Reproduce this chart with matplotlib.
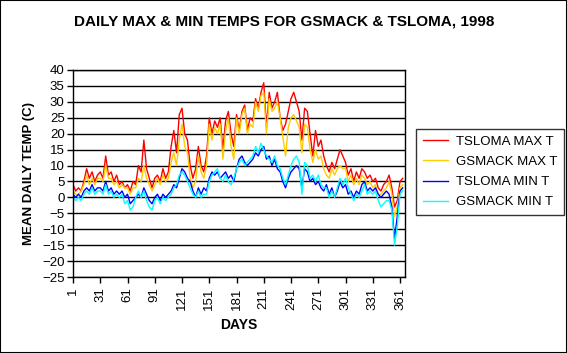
import numpy as np
import matplotlib
matplotlib.use("Agg")
import matplotlib.pyplot as plt
from matplotlib.patches import Rectangle

plt.rcParams["font.family"] = ["Liberation Sans", "DejaVu Sans"]

# days sampled every 3 days through 1998
days = list(range(1, 366, 3))

tsloma_max = [
    4, 2, 3, 2, 5, 9, 6, 8, 5, 7,
    8, 6, 13, 7, 8, 5, 7, 4, 5, 3,
    4, 2, 5, 4, 10, 8, 18, 9, 6, 3,
    6, 7, 5, 9, 6, 8, 16, 21, 14, 26,
    28, 20, 18, 10, 6, 9, 16, 10, 8, 13,
    25, 20, 24, 22, 25, 15, 24, 27, 20, 16,
    26, 21, 27, 29, 21, 25, 24, 31, 28, 33,
    36, 22, 33, 28, 30, 33, 25, 21, 23, 27,
    31, 33, 30, 27, 18, 28, 27, 20, 13, 21,
    16, 18, 13, 10, 8, 11, 9, 12, 15, 13,
    11, 7, 9, 5, 8, 6, 9, 8, 6, 7,
    5, 6, 3, 2, 4, 5, 7, 3, -3, -1,
    5, 6,
]
gsmack_max = [
    2, 1, 1, 2, 4, 7, 4, 6, 4, 6,
    6, 5, 10, 6, 6, 4, 5, 3, 4, 3,
    3, 1, 3, 3, 6, 5, 10, 6, 4, 2,
    4, 6, 4, 7, 5, 6, 11, 14, 10, 18,
    23, 16, 14, 6, 3, 5, 13, 8, 6, 10,
    23, 18, 22, 20, 23, 12, 21, 25, 16, 12,
    25, 20, 26, 28, 20, 23, 22, 30, 27, 32,
    33, 20, 31, 27, 28, 30, 25, 19, 13, 22,
    25, 26, 24, 22, 14, 23, 22, 15, 11, 15,
    12, 13, 9, 7, 6, 9, 7, 9, 10, 9,
    9, 5, 7, 4, 6, 4, 7, 6, 4, 5,
    3, 4, 1, 1, 2, 3, 5, 1, -6, -3,
    3, 4,
]
tsloma_min = [
    1, 0, 1, 0, 2, 3, 2, 4, 2, 3,
    3, 2, 5, 2, 3, 1, 2, 1, 2, 0,
    1, -2, -1, 0, 1, 0, 3, 1, -1, -2,
    0, 1, -1, 1, 0, 1, 2, 4, 3, 6,
    9, 8, 6, 5, 2, 0, 3, 1, 3, 2,
    6, 8, 7, 8, 6, 7, 8, 6, 7, 5,
    9, 12, 13, 11, 10, 11, 12, 14, 13, 15,
    16, 12, 13, 10, 12, 9, 8, 5, 3, 6,
    8, 9, 10, 9, 3, 9, 8, 5, 6, 4,
    5, 3, 2, 4, 1, 3, 0, 2, 5, 3,
    4, 1, 2, 0, 2, 1, 4, 5, 2, 3,
    2, 3, 1, 0, 1, 2, 1, -3, -13, -6,
    2, 3,
]
gsmack_min = [
    0, -1, 0, -1, 1, 2, 1, 3, 1, 2,
    2, 1, 4, 1, 2, 0, 1, 0, 1, -2,
    -1, -4, -3, 0, 2, 0, 2, -1, -3, -4,
    -1, 0, -2, 0, -1, 0, 1, 3, 4, 7,
    8, 7, 5, 3, 1, 0, 2, 0, 1, 1,
    5, 7, 8, 9, 6, 5, 7, 5, 4, 6,
    9, 11, 12, 10, 11, 12, 13, 16, 14, 17,
    15, 13, 12, 11, 13, 10, 9, 6, 4, 7,
    10, 12, 13, 11, 1, 11, 10, 6, 7, 5,
    7, 4, 3, 3, 0, 2, 0, 3, 6, 4,
    6, 3, 1, -1, 1, 0, 2, 4, 1, 2,
    1, 2, -1, -3, -2, -1, -1, -4, -15, -9,
    1, 2,
]

series = [
    ("TSLOMA MAX T", tsloma_max, "#FF0000"),
    ("GSMACK MAX T", gsmack_max, "#FFCC00"),
    ("TSLOMA MIN T", tsloma_min, "#0000FF"),
    ("GSMACK MIN T", gsmack_min, "#00FFFF"),
]
xticks = list(range(1, 366, 30))

fig = plt.figure(figsize=(5.67, 3.53), dpi=100)
ax = fig.add_axes([73 / 567, 1 - 277 / 353, (405 - 73) / 567, (277 - 70) / 353])

for name, vals, col in series:
    ax.plot(days, vals, color=col, lw=1.0, label=name)

ax.set_xlim(1, 366.5)
ax.set_ylim(-25, 40)
ax.set_yticks(np.arange(-25, 41, 5))
ax.set_xticks(xticks)
ax.set_xticklabels([str(t) for t in xticks], rotation=90, fontsize=9.5)
ax.tick_params(axis="y", labelsize=9.5, direction="out", length=4, width=1, pad=2)
ax.tick_params(axis="x", direction="out", length=4, width=1)
ax.yaxis.grid(True, color="black", lw=1)
ax.set_axisbelow(True)
for sp in ax.spines.values():
    sp.set_linewidth(1)

ax.set_ylabel("MEAN DAILY TEMP (C)", fontsize=9.5, fontweight="bold", labelpad=5)
ax.set_xlabel("DAYS", fontsize=10, fontweight="bold", labelpad=6)
fig.text(284 / 567, 1 - 22 / 353, "DAILY MAX & MIN TEMPS FOR GSMACK & TSLOMA, 1998",
         ha="center", va="center", fontsize=11, fontweight="bold")

leg = ax.legend(loc="upper left", bbox_to_anchor=(416 / 567, 1 - 129 / 353),
                bbox_transform=fig.transFigure, fontsize=9.5, frameon=True,
                fancybox=False, edgecolor="black", handlelength=1.9,
                labelspacing=0.6, borderpad=0.5, handletextpad=0.6,
                borderaxespad=0)
leg.get_frame().set_linewidth(1)

fig.add_artist(Rectangle((0, 0), 1, 1, transform=fig.transFigure, fill=False,
                         lw=1.5, edgecolor="black"))

plt.savefig("out.png", dpi=100)
